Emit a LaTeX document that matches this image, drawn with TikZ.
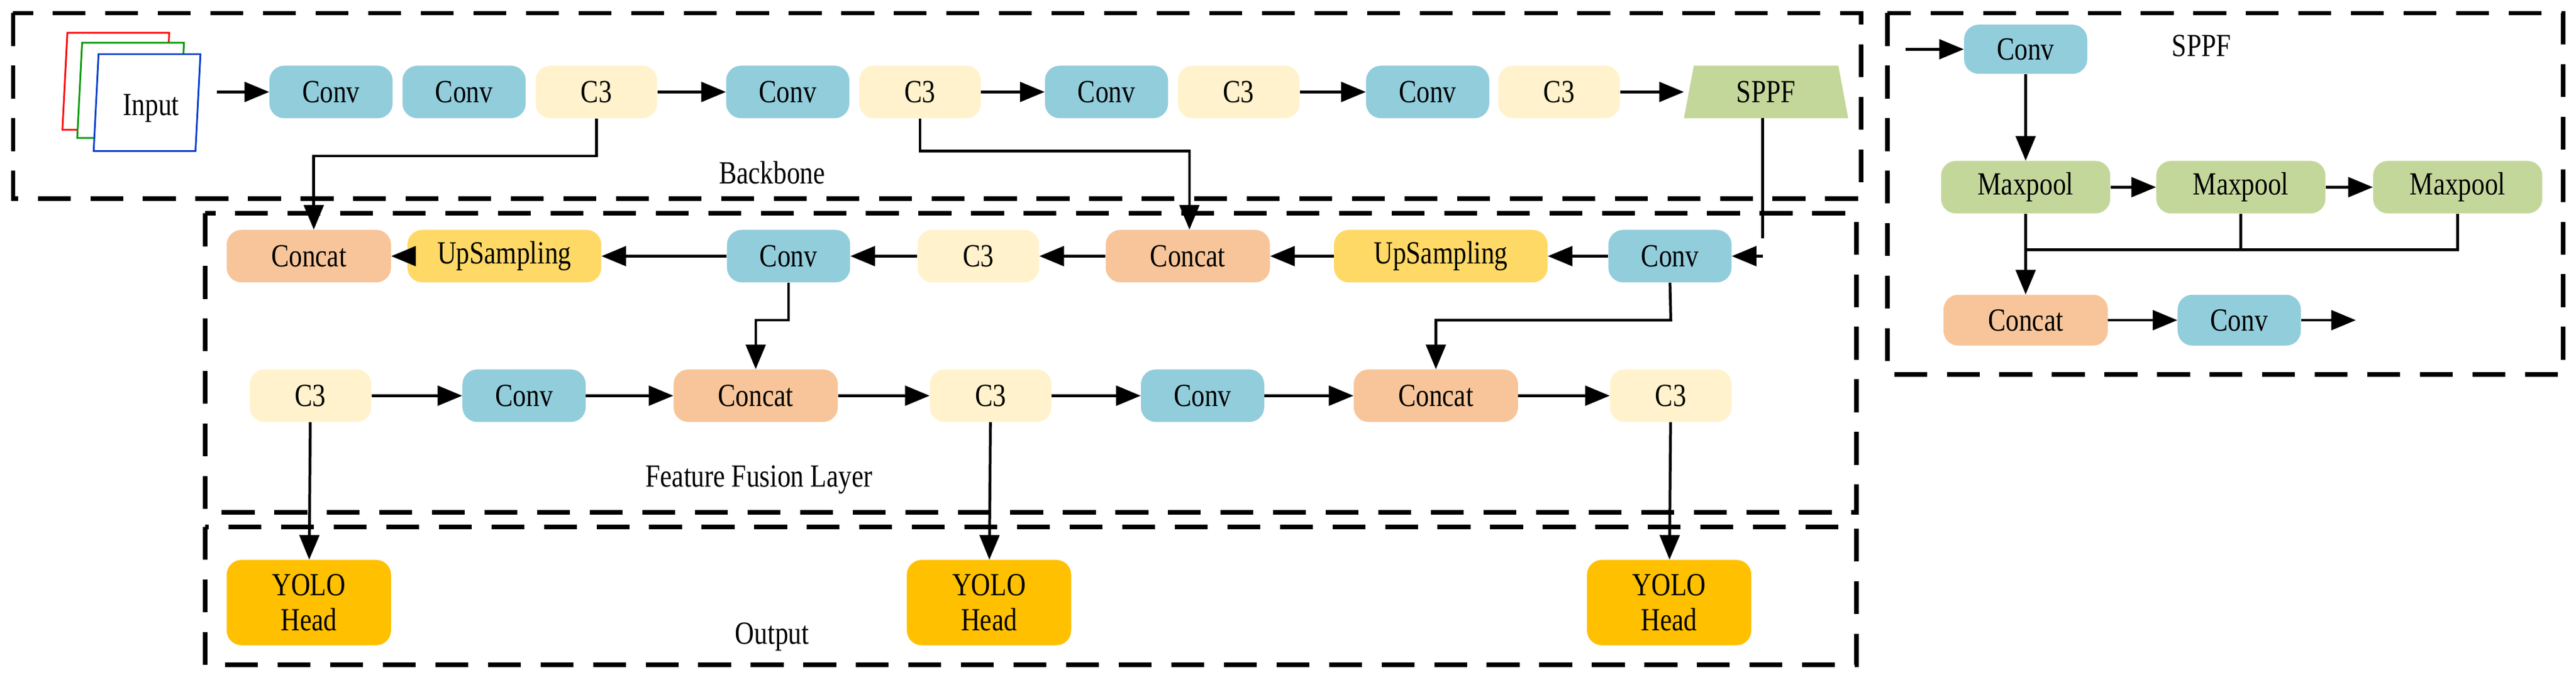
\documentclass[tikz,border=0pt]{standalone}
\usepackage{fontspec}
\setmainfont{Liberation Serif}[FakeStretch=0.82]
\usetikzlibrary{arrows.meta}
\definecolor{cconv}{HTML}{92CDDC}
\definecolor{cc3}{HTML}{FFF2CC}
\definecolor{ccat}{HTML}{F8C59A}
\definecolor{cup}{HTML}{FFD966}
\definecolor{cmax}{HTML}{C4D79B}
\definecolor{cyolo}{HTML}{FFC000}
\begin{document}
\begin{tikzpicture}[x=0.05cm,y=-0.05cm,
  every node/.style={font=\fontsize{28}{32}\selectfont},
  bx/.style={rounded corners=0.45cm, minimum height=1.6cm, inner sep=0pt, text=black},
  conv/.style={bx, fill=cconv, minimum width=3.75cm},
  cthree/.style={bx, fill=cc3, minimum width=3.7cm},
  cat/.style={bx, fill=ccat, minimum width=5cm},
  up/.style={bx, fill=cup, minimum width=#1},
  mp/.style={bx, fill=cmax, minimum width=5.15cm},
  yolo/.style={bx, fill=cyolo, minimum width=5cm, minimum height=2.6cm, align=center, font=\fontsize{28}{30}\selectfont},
  frame/.style={line width=4pt, dash pattern=on 1cm off 0.6cm},
  ar/.style={line width=2.4pt, -{Triangle[length=0.75cm,width=0.6cm]}},
  ln/.style={line width=2.4pt}]
\useasboundingbox (0,0) rectangle (1568,414);
% frames
\draw[frame] (8,8) rectangle (1133,121);
\draw[frame] (125,130) rectangle (1130,312);
\draw[frame] (125,321) rectangle (1130,405);
\draw[frame] (1149,8) rectangle (1560,228);
\node (lbb) at (470,105) {Backbone};
\node (lff) at (462,292) {Feature Fusion Layer};
\node (lout) at (470,388) {Output};
\node (lsp) at (1340,28) {SPPF};
% input sheets
\draw[red, line width=1.5pt, fill=white] (38,79) -- (41,20) -- (103,20) -- (100,79) -- cycle;
\draw[green!60!black, line width=1.5pt, fill=white] (47,84) -- (50,26) -- (112,26) -- (109,84) -- cycle;
\draw[blue!70!cyan!80!black, line width=1.5pt, fill=white] (57,92) -- (60,33) -- (122,33) -- (119,92) -- cycle;
\node (in) at (92,66) {Input};
\coordinate (inr) at (132,56);
% backbone
\node[conv] (b1) at (201.5,56) {Conv};
\node[conv] (b2) at (282.5,56) {Conv};
\node[cthree] (b3) at (363,56) {C3};
\node[conv] (b4) at (479.5,56) {Conv};
\node[cthree] (b5) at (560,56) {C3};
\node[conv] (b6) at (673.5,56) {Conv};
\node[cthree] (b7) at (754,56) {C3};
\node[conv] (b8) at (869,56) {Conv};
\node[cthree] (b9) at (949,56) {C3};
\fill[cmax] (1025,72) -- (1031,40) -- (1119,40) -- (1125,72) -- cycle;
\node (sp) at (1075,56) {SPPF};
\draw[ar] (inr) -- (b1);
\draw[ar] (b3) -- (b4);
\draw[ar] (b5) -- (b6);
\draw[ar] (b7) -- (b8);
\draw[ar] (b9) -- (1025,56);
% row 2
\node[cat] (f1) at (188,156) {Concat};
\node[up=5.9cm] (f2) at (307,156) {UpSampling};
\node[conv] (f3) at (480,156) {Conv};
\node[cthree] (f4) at (595.5,156) {C3};
\node[cat] (f5) at (723,156) {Concat};
\node[up=6.5cm] (f6) at (877,156) {UpSampling};
\node[conv] (f7) at (1016.5,156) {Conv};
\draw[ar] (f2) -- (f1);
\draw[ar] (f3) -- (f2);
\draw[ar] (f4) -- (f3);
\draw[ar] (f5) -- (f4);
\draw[ar] (f6) -- (f5);
\draw[ar] (f7) -- (f6);
% row 3
\node[cthree] (g1) at (189,241) {C3};
\node[conv] (g2) at (319,241) {Conv};
\node[cat] (g3) at (460,241) {Concat};
\node[cthree] (g4) at (603,241) {C3};
\node[conv] (g5) at (732,241) {Conv};
\node[cat] (g6) at (874,241) {Concat};
\node[cthree] (g7) at (1017,241) {C3};
\draw[ar] (g1) -- (g2);
\draw[ar] (g2) -- (g3);
\draw[ar] (g3) -- (g4);
\draw[ar] (g4) -- (g5);
\draw[ar] (g5) -- (g6);
\draw[ar] (g6) -- (g7);
% yolo
\node[yolo] (y1) at (188,367) {YOLO\\Head};
\node[yolo] (y2) at (602,367) {YOLO\\Head};
\node[yolo] (y3) at (1016,367) {YOLO\\Head};
\draw[ar] (g1) -- (y1);
\draw[ar] (g4) -- (y2);
\draw[ar] (g7) -- (y3);
% cross connections
\draw[ar] (b3.south) -- (363,95) -- (191,95) -- (f1.north -| 191,0);
\draw[ar] (b5.south) -- (560,92) -- (724,92) -- (f5.north -| 724,0);
\draw[ln] (1073,72) -- (1073,145);
\draw[ar] (1073,156) -- (f7.east);
\draw[ar] (f3.south) -- (480,195) -- (460,195) -- (g3.north);
\draw[ar] (f7.south) -- (1017,195) -- (874,195) -- (g6.north);
% SPPF detail
\node[conv, minimum height=1.5cm] (s1) at (1233,30) {Conv};
\node[mp] (m1) at (1233,114) {Maxpool};
\node[mp] (m2) at (1364,114) {Maxpool};
\node[mp] (m3) at (1496,114) {Maxpool};
\node[cat, minimum height=1.55cm] (sc) at (1233,195) {Concat};
\node[conv, minimum height=1.55cm] (s2) at (1363,195) {Conv};
\coordinate (sin) at (1160,30);
\coordinate (sout) at (1434,195);
\draw[ar] (sin) -- (s1);
\draw[ar] (s1) -- (m1);
\draw[ar] (m1) -- (m2);
\draw[ar] (m2) -- (m3);
\draw[ln] (m2.south) -- (1364,152);
\draw[ln] (m3.south) -- (1496,152) -- (1233,152);
\draw[ar] (m1.south) -- (sc.north);
\draw[ar] (sc) -- (s2);
\draw[ar] (s2) -- (sout);
\end{tikzpicture}
\end{document}
